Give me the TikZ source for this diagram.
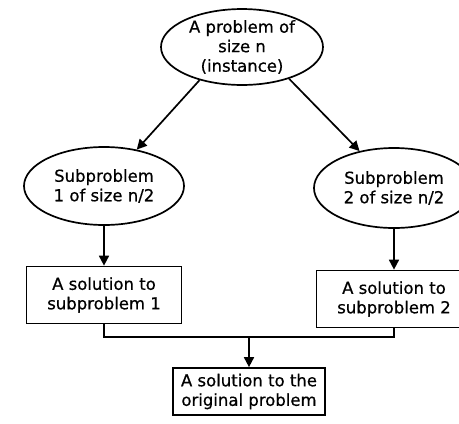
\documentclass[tikz,border=0pt]{standalone}
\usepackage{fontspec}
\setmainfont[FakeBold=0.6]{DejaVu Sans}
\usetikzlibrary{arrows.meta,shapes.geometric,positioning}

\begin{document}
\begin{tikzpicture}[x=1pt,y=-1pt,line width=1.7pt,
  font=\fontsize{16.5}{19.5}\selectfont,
  ell/.style={draw,ellipse,inner sep=0pt,align=center},
  sol/.style={draw,rectangle,inner sep=0pt,align=center,minimum width=155pt,minimum height=57pt},
  arr/.style={-{Triangle[length=10pt,width=10pt]}}]
\useasboundingbox (0,0) rectangle (459,424);
\node[ell,minimum width=162pt,minimum height=74pt] (prob) at (242,47) {A problem of\\size n\\(instance)};
\node[ell,minimum width=160pt,minimum height=78pt] (sub1) at (104,186) {Subproblem\\1 of size n/2};
\node[ell,minimum width=160pt,minimum height=80pt] (sub2) at (394,188) {Subproblem\\2 of size n/2};
\node[sol] (sol1) at (104,295) {A solution to\\subproblem 1};
\node[sol] (sol2) at (394,299) {A solution to\\subproblem 2};
\node[sol,minimum width=152pt,minimum height=47pt] (whole) at (249,391.5) {A solution to the\\original problem};
\coordinate (merge) at (249,337);
\draw[arr] (prob.218) -- (sub1.48);
\draw[arr] (prob.326) -- (sub2.133);
\draw[arr] (sub1) -- (sol1);
\draw[arr] (sub2) -- (sol2);
\draw (sol1.south) |- (merge) -| (sol2.south);
\draw[arr] (merge) -- (whole);
\end{tikzpicture}
\end{document}
